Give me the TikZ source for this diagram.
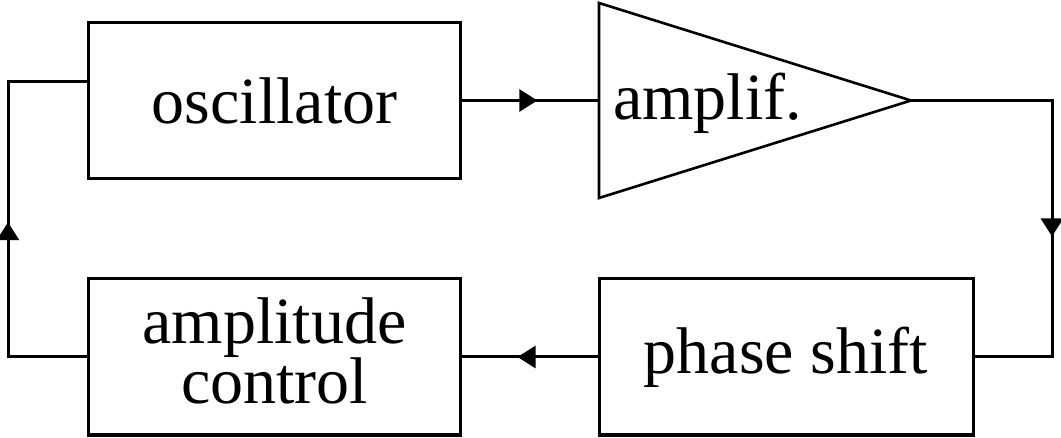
\documentclass[tikz,border=0pt]{standalone}
\usepackage{fontspec}
\setmainfont{Liberation Serif}
\usetikzlibrary{arrows.meta,decorations.markings}
\begin{document}
\begin{tikzpicture}[x=1pt,y=-1pt,
  blk/.style={draw,line width=3pt,minimum width=372pt,minimum height=156pt,inner sep=0pt,
              font=\fontsize{66}{60}\selectfont,align=center},
  wire/.style={line width=3pt,line join=miter},
  midarrow/.style={postaction={decorate},decoration={markings,
      mark=at position #1 with {\arrow{Triangle[length=18pt,width=22pt]}}}}]
\useasboundingbox (0,0) rectangle (1061,438);
% blocks
\node[blk] (osc) at (274.5,101) {oscillator};
\node[blk,text depth=12pt] (ac) at (274.5,357) {amplitude\\control};
\node[blk,minimum width=374pt] (ps) at (786,357) {phase shift};
% amplifier triangle
\coordinate (atl) at (599,3);
\coordinate (abl) at (599,198);
\coordinate (atip) at (911,100.5);
\coordinate (ain) at (599,100.5);
\draw[line width=2.6pt,line join=miter] (atl) -- (atip) -- (abl) -- cycle;
\node[font=\fontsize{66}{60}\selectfont,anchor=base west,inner sep=0pt] (amptext) at (613,120) {amplif.};
% corners
\coordinate (rc1) at (1052,100.5);
\coordinate (rc2) at (1052,357);
\coordinate (lc1) at (8,357);
\coordinate (lc2) at (8,82);
\coordinate (oscin) at ([yshift=19pt]osc.west);
% connectors
\draw[wire,midarrow=0.55] (osc.east |- ain) -- (ain);
\draw[wire] (atip) -- (rc1) -- (rc2) -- (ps.east);
\draw[wire,midarrow=0.53] (rc1) -- (rc2);
\draw[wire,midarrow=0.59] (ps.west) -- (ac.east);
\draw[wire] (ac.west) -- (lc1) -- (lc2) -- (oscin);
\draw[wire,midarrow=0.49] (lc1) -- (lc2);
\end{tikzpicture}
\end{document}
